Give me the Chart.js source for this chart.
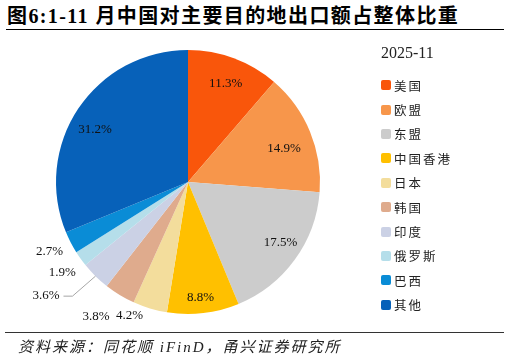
<!DOCTYPE html>
<html>
<head>
<meta charset="utf-8">
<script src="https://cdn.jsdelivr.net/npm/chart.js@4"></script>
<style>
    html, body { margin: 0; padding: 0; background: #fff; }
    #wrap { position: relative; width: 509px; height: 360px; overflow: hidden; }
    #title {
        position: absolute; left: 7px; top: 0px;
        font: bold 20px "Liberation Serif", "Noto Sans CJK SC", serif;
        letter-spacing: 1.4px; color: #000; white-space: nowrap;
    }
    #topRule { position: absolute; left: 6px; top: 29px; width: 498px; height: 0; border-top: 1.5px solid #000; }
    #bottomRule { position: absolute; left: 5px; top: 332px; width: 499px; height: 0; border-top: 1.5px solid #333; }
    #source {
        position: absolute; left: 18px; top: 335px;
        font: italic 15px "Liberation Serif", "Noto Sans CJK SC", serif;
        letter-spacing: 2px; color: #222; white-space: nowrap;
    }
    #chart { position: absolute; left: 0; top: 0; }
    #legend { position: absolute; left: 381px; top: 42px; font-family: "Liberation Serif", "Noto Sans CJK SC", serif; }
    #legend .ttl { font-size: 16px; height: 31px; line-height: 22px; color: #222; }
    #legend .row { height: 24.4px; display: flex; align-items: center; font-size: 12.5px; color: #222; letter-spacing: 2px; }
    #legend .box { width: 10px; height: 10px; border-radius: 2px; margin-right: 3px; }
</style>
</head>
<body>
<div id="wrap">
    <div id="title">图6:1-11 月中国对主要目的地出口额占整体比重</div>
    <div id="topRule"></div>
    <canvas id="chart" width="509" height="360"></canvas>
    <div id="legend"></div>
    <div id="bottomRule"></div>
    <div id="source">资料来源：同花顺 iFinD，甬兴证券研究所</div>
</div>
<script>
    /* === DATA === */
    const seriesName = "2025-11";
    const regions = ["美国", "欧盟", "东盟", "中国香港", "日本", "韩国", "印度", "俄罗斯", "巴西", "其他"];
    const shares = [11.3, 14.9, 17.5, 8.8, 4.2, 3.8, 3.6, 1.9, 2.7, 31.2];

    const colors = ["#F9560B", "#F7964B", "#CCCCCC", "#FFC000", "#F3DD9C", "#DFAB8D", "#CBD1E5", "#B5DEEA", "#0A8CD6", "#0761B9"];

    // labels 4..8 sit outside the pie; small nudges (px) per label
    const firstOutside = 4, lastOutside = 8;
    const nudges = [[0, 3], [-4, 8], [5, -3], [0, 8], [-17, -4], [-4, 11], [0, 0], [5, 7], [3, 4], [-3, 8]];

    /* === LEGEND === */
    const legend = document.getElementById("legend");
    legend.innerHTML = `<div class="ttl">${seriesName}</div>` + regions.map((r, i) =>
        `<div class="row"><span class="box" style="background:${colors[i]}"></span>${r}</div>`).join("");

    /* === LABEL PLUGIN === */
    const pieLabels = {
        id: "pieLabels",
        afterDatasetsDraw(chart) {
            const ctx = chart.ctx;
            const meta = chart.getDatasetMeta(0);
            ctx.save();
            ctx.font = '13px "Liberation Serif", serif';
            ctx.fillStyle = "#111";
            ctx.textBaseline = "middle";
            meta.data.forEach((arc, i) => {
                const { x, y, startAngle, endAngle, outerRadius } = arc.getProps(["x", "y", "startAngle", "endAngle", "outerRadius"]);
                const mid = (startAngle + endAngle) / 2;
                const text = shares[i].toFixed(1) + "%";
                const [dx, dy] = nudges[i];
                if (i < firstOutside || i > lastOutside) {
                    const r = outerRadius * 0.82;
                    ctx.textAlign = "center";
                    ctx.fillText(text, x + Math.cos(mid) * r + dx, y + Math.sin(mid) * r + dy);
                    return;
                }
                if (i === 6) {
                    // pulled-out label with a leader line
                    const ex = x + Math.cos(mid) * outerRadius;
                    const ey = y + Math.sin(mid) * outerRadius;
                    const kx = ex - 23, ky = ey + 20;
                    ctx.strokeStyle = "#A6A6A6";
                    ctx.lineWidth = 1;
                    ctx.beginPath();
                    ctx.moveTo(ex, ey);
                    ctx.lineTo(kx, ky);
                    ctx.lineTo(kx - 9, ky);
                    ctx.stroke();
                    ctx.textAlign = "right";
                    ctx.fillText(text, kx - 13, ky - 1);
                    return;
                }
                const r = outerRadius + 12;
                ctx.textAlign = Math.cos(mid) < -0.4 ? "right" : "center";
                ctx.fillText(text, x + Math.cos(mid) * r + dx, y + Math.sin(mid) * r + dy);
            });
            ctx.restore();
        }
    };

    /* === CHART === */
    new Chart(document.getElementById("chart"), {
        type: "pie",
        data: {
            labels: regions,
            datasets: [{
                label: seriesName,
                data: shares,
                backgroundColor: colors,
                borderWidth: 0
            }]
        },
        options: {
            responsive: false,
            animation: false,
            layout: { padding: { left: 56, right: 189, top: 50, bottom: 46 } },
            plugins: {
                legend: { display: false },
                tooltip: { enabled: false }
            }
        },
        plugins: [pieLabels]
    });
</script>
</body>
</html>
